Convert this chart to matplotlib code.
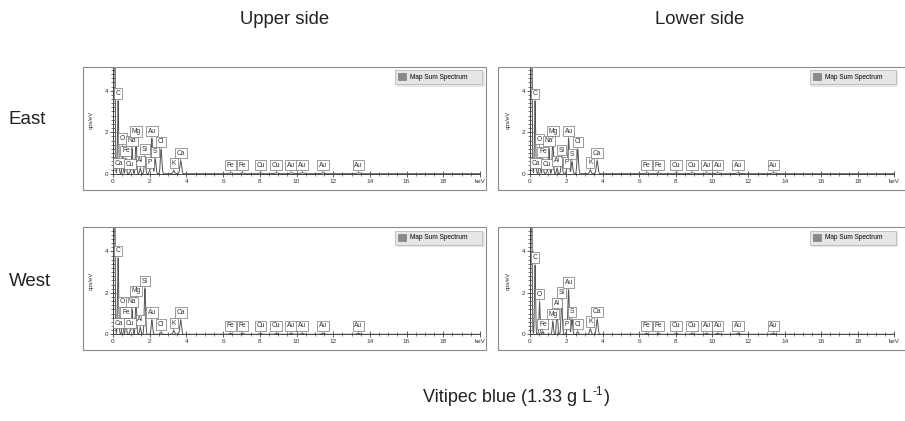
import numpy as np
import matplotlib
matplotlib.use("Agg")
import matplotlib.pyplot as plt
from matplotlib.patches import Rectangle, Patch
from matplotlib.ticker import MultipleLocator

plt.rcParams['font.family'] = ['Liberation Sans', 'DejaVu Sans']

# peaks: label, energy (keV), peak top (cps/eV)
eu_labels = ['C', 'Ca', 'O', 'Fe', 'Cu', 'Na', 'Mg', 'Al', 'Si', 'P', 'Au', 'S', 'Cl', 'K', 'Ca']
eu_kev = [0.277, 0.341, 0.525, 0.705, 0.93, 1.041, 1.254, 1.486, 1.74, 2.013, 2.12, 2.307, 2.622, 3.313, 3.69]
eu_height = [3.50, 0.14, 1.33, 0.73, 0.09, 1.21, 1.67, 0.25, 0.81, 0.17, 1.69, 0.68, 1.17, 0.14, 0.62]

el_labels = ['C', 'Ca', 'O', 'Fe', 'Cu', 'Na', 'Mg', 'Al', 'Si', 'P', 'Au', 'S', 'Cl', 'K', 'Ca']
el_kev = [0.277, 0.341, 0.525, 0.705, 0.93, 1.041, 1.254, 1.486, 1.74, 2.013, 2.12, 2.307, 2.622, 3.313, 3.69]
el_height = [3.49, 0.14, 1.29, 0.68, 0.09, 1.21, 1.69, 0.25, 0.77, 0.17, 1.69, 0.57, 1.17, 0.17, 0.62]

wu_labels = ['C', 'Ca', 'O', 'Fe', 'Cu', 'Na', 'Mg', 'Al', 'Si', 'Au', 'Cl', 'K', 'Ca']
wu_kev = [0.277, 0.341, 0.525, 0.705, 0.93, 1.041, 1.254, 1.486, 1.74, 2.12, 2.622, 3.313, 3.69]
wu_height = [3.65, 0.17, 1.19, 0.68, 0.17, 1.19, 1.72, 0.33, 2.20, 0.68, 0.10, 0.17, 0.68]

wl_labels = ['C', 'O', 'Fe', 'Mg', 'Al', 'Si', 'P', 'Au', 'S', 'Cl', 'K', 'Ca']
wl_kev = [0.277, 0.525, 0.705, 1.254, 1.486, 1.74, 2.013, 2.12, 2.307, 2.622, 3.313, 3.69]
wl_height = [3.33, 1.56, 0.12, 0.60, 1.13, 1.65, 0.12, 2.13, 0.71, 0.12, 0.25, 0.71]

# high energy lines, the same in every panel
high_labels = ['Fe', 'Fe', 'Cu', 'Cu', 'Au', 'Au', 'Au', 'Au']
high_kev = [6.40, 7.06, 8.04, 8.90, 9.71, 10.31, 11.44, 13.38]
high_height = [0.04, 0.04, 0.04, 0.04, 0.04, 0.04, 0.04, 0.04]

zero_peak = 10.0  # noise peak at 0 keV, runs off the top

row_names = ['East', 'West']
col_names = ['Upper side', 'Lower side']
x_ticks = [0, 2, 4, 6, 8, 10, 12, 14, 16, 18, 20]
x_ticklabels = ['0', '2', '4', '6', '8', '10', '12', '14', '16', '18', 'keV']

W, H = 905, 421
fig = plt.figure(figsize=(W / 100, H / 100), dpi=100)


def fx(px):
    return px / W


def fy(py):
    return 1 - py / H


def spectrum(ax, labels, kev, height):
    labels = labels + high_labels
    kev = np.array(kev + high_kev)
    height = np.array(height + high_height)
    x = np.linspace(0, 20, 6000)
    y = zero_peak * np.exp(-0.5 * ((x - 0.08) / 0.03) ** 2)
    for e, h in zip(kev, height):
        s = 0.028 + 0.005 * e
        y = y + h * np.exp(-0.5 * ((x - e) / s) ** 2)
    ax.plot(x, y, color='#555555', lw=0.7, zorder=2)
    for lab, e, h in zip(labels, kev, height):
        ax.annotate(lab, xy=(e, h), xytext=(0, 5.5), textcoords='offset points',
                    ha='center', va='center', fontsize=4.8, color='#333333',
                    bbox=dict(boxstyle='square,pad=0.25', fc='white', ec='#666666', lw=0.45),
                    arrowprops=dict(arrowstyle='-', color='#666666', lw=0.45,
                                    shrinkA=0, shrinkB=0),
                    zorder=3)


panels = [
    (0, 0, eu_labels, eu_kev, eu_height),
    (0, 1, el_labels, el_kev, el_height),
    (1, 0, wu_labels, wu_kev, wu_height),
    (1, 1, wl_labels, wl_kev, wl_height),
]

frame_x = [(83, 486), (498, 910)]
axis_x = [(113, 480), (530, 894)]
row_dy = 160.6

for r, c, labels, kev, height in panels:
    top = 66.7 + r * row_dy
    bottom = 173.7 + r * row_dy
    f0, f1 = frame_x[c]
    fig.patches.append(Rectangle((fx(f0), fy(189.5 + r * row_dy)), fx(f1 - f0),
                                 (189.5 - 66.5) / H, transform=fig.transFigure,
                                 fill=False, ec='#8c8c8c', lw=0.8))
    a0, a1 = axis_x[c]
    ax = fig.add_axes([fx(a0), fy(bottom), fx(a1 - a0), (bottom - top) / H])
    ax.set_xlim(0, 20)
    ax.set_ylim(0, 5.16)
    ax.patch.set_alpha(0)
    for s in ['top', 'right']:
        ax.spines[s].set_visible(False)
    for s in ['left', 'bottom']:
        ax.spines[s].set_color('#444444')
        ax.spines[s].set_linewidth(0.7)
    ax.set_xticks(x_ticks)
    ax.set_xticklabels(x_ticklabels)
    ax.set_yticks([0, 2, 4])
    ax.xaxis.set_minor_locator(MultipleLocator(0.5))
    ax.yaxis.set_minor_locator(MultipleLocator(0.2))
    ax.tick_params(which='major', direction='inout', length=4, width=0.6,
                   colors='#444444', labelsize=4.6, pad=1.5, labelcolor='#333333')
    ax.tick_params(which='minor', direction='inout', length=2.2, width=0.5, colors='#444444')
    ax.set_ylabel('cps/eV', fontsize=4.3, color='#333333', labelpad=8)
    spectrum(ax, labels, kev, height)
    leg = ax.legend(handles=[Patch(fc='#8a8a8a', ec='#6e6e6e', lw=0.4, label='Map Sum Spectrum')],
                    loc='upper left', bbox_to_anchor=(0.768, 0.848, 0.237, 0.121),
                    mode='expand', borderaxespad=0, fontsize=4.7, frameon=True,
                    fancybox=False, shadow={'color': '#cfcfcf', 'ox': 1.2, 'oy': -1.2},
                    handlelength=1.2, handleheight=1.2,
                    handletextpad=0.6, borderpad=0.5)
    leg.get_frame().set_facecolor('#e6e6e6')
    leg.get_frame().set_edgecolor('#b0b0b0')
    leg.get_frame().set_linewidth(0.5)

fig.text(fx(285), fy(19), col_names[0], fontsize=13.3, ha='center', va='center', color='#222222')
fig.text(fx(700), fy(19), col_names[1], fontsize=13.3, ha='center', va='center', color='#222222')
fig.text(fx(27), fy(120), row_names[0], fontsize=13.5, ha='center', va='center', color='#222222')
fig.text(fx(30), fy(281), row_names[1], fontsize=13.5, ha='center', va='center', color='#222222')

# bottom caption with a plain hyphen superscript
t_main = fig.text(0, fy(398), 'Vitipec blue (1.33 g L', fontsize=13, ha='left', va='center', color='#222222')
t_sup = fig.text(0, fy(392), '-1', fontsize=8.5, ha='left', va='center', color='#222222')
t_end = fig.text(0, fy(398), ')', fontsize=13, ha='left', va='center', color='#222222')
fig.canvas.draw()
rend = fig.canvas.get_renderer()
w_main = t_main.get_window_extent(rend).width
w_sup = t_sup.get_window_extent(rend).width
w_end = t_end.get_window_extent(rend).width
x0 = 516 - (w_main + w_sup + w_end) / 2
t_main.set_x(fx(x0))
t_sup.set_x(fx(x0 + w_main + 0.5))
t_end.set_x(fx(x0 + w_main + w_sup + 1))

fig.savefig('out.png', dpi=100)
